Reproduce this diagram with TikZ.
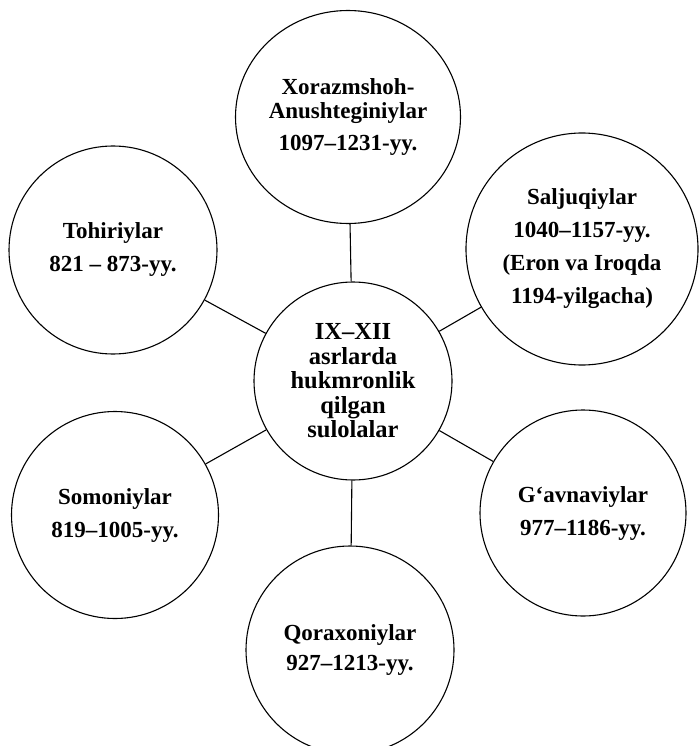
\documentclass[tikz,border=0pt]{standalone}
\usepackage{fontspec}
\setmainfont{Liberation Serif}
\usetikzlibrary{shapes.geometric}
\tikzset{
  bubble/.style={draw, circle, line width=1.1pt, inner sep=0pt, align=center,
    font=\fontsize{23}{33}\selectfont\bfseries},
  link/.style={line width=1.1pt}
}
\begin{document}
\begin{tikzpicture}[x=1pt,y=-1pt]
\useasboundingbox (0,0) rectangle (700,746);
\node[bubble, minimum size=198pt, font=\fontsize{24.5}{24.5}\selectfont\bfseries] (c) at (353,381)
  {IX–XII\\asrlarda\\hukmronlik\\qilgan\\sulolalar};
\node[bubble, ellipse, minimum width=225pt, minimum height=213pt, font=\fontsize{23}{24}\selectfont\bfseries] (x) at (348,117)
  {Xorazmshoh-\\Anushteginiylar\\[8pt]1097–1231-yy.};
\node[bubble, minimum size=208pt] (t) at (113,250) {Tohiriylar\\821 – 873-yy.};
\node[bubble, minimum size=232pt] (s) at (582,249)
  {Saljuqiylar\\1040–1157-yy.\\(Eron va Iroqda\\1194-yilgacha)};
\node[bubble, minimum size=207pt] (so) at (115,515) {Somoniylar\\819–1005-yy.};
\node[bubble, minimum size=206pt] (g) at (583,513) {G‘avnaviylar\\977–1186-yy.};
\node[bubble, minimum size=208pt, font=\fontsize{23}{30}\selectfont\bfseries] (q) at (350,650) {Qoraxoniylar\\927–1213-yy.};
\draw[link] (c) -- (x);
\draw[link] (c) -- (t);
\draw[link] (c) -- (s);
\draw[link] (c) -- (so);
\draw[link] (c) -- (g);
\draw[link] (c) -- (q);
\end{tikzpicture}
\end{document}
